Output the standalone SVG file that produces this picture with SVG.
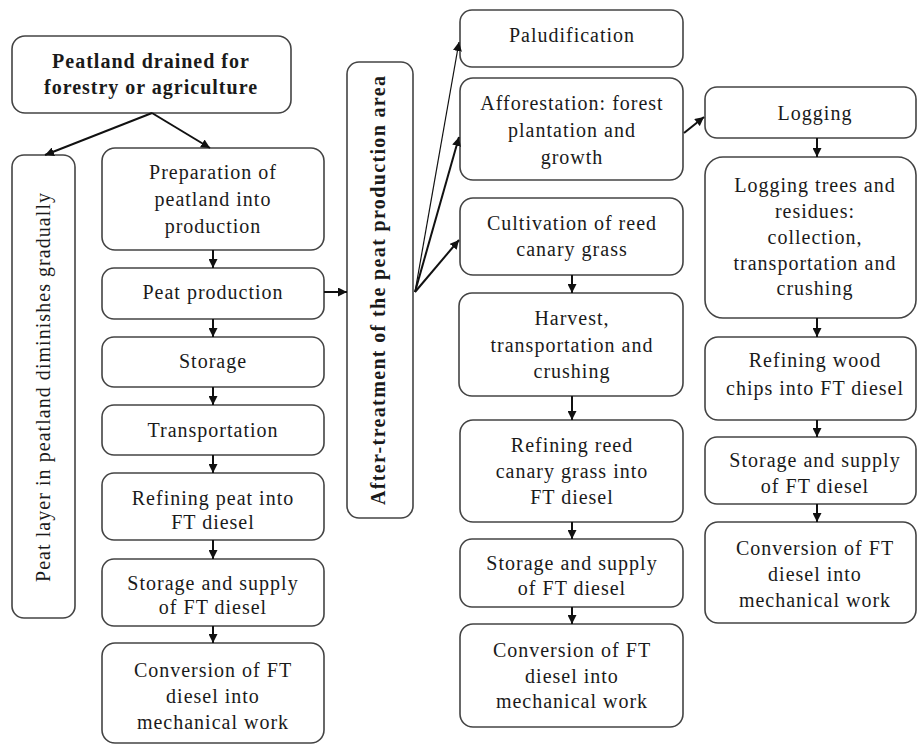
<svg xmlns="http://www.w3.org/2000/svg" width="917" height="745" viewBox="0 0 917 745">
<defs>
<marker id="ah" viewBox="0 0 10 10" refX="10" refY="5" markerWidth="9" markerHeight="9" markerUnits="userSpaceOnUse" orient="auto">
<path d="M0,0 L10,5 L0,10 z" fill="#111"/>
</marker>
<style>
rect{fill:#fff;stroke:#444;stroke-width:1.6}
text{font-family:"Liberation Serif","Times New Roman",serif;font-size:20px;fill:#1a1a1a;text-anchor:middle;letter-spacing:1px}
.b{font-weight:bold}
.c line{stroke:#111;stroke-width:2;marker-end:url(#ah)}
.c line.thin{stroke-width:1.2}
</style>
</defs>
<rect x="0" y="0" width="917" height="745" style="fill:#fff;stroke:none"/>

<g id="n-top"><rect x="12" y="36" width="279" height="77" rx="13"/>
<text class="b" x="151" y="68">Peatland drained for</text>
<text class="b" x="151" y="94">forestry or agriculture</text></g>

<g id="n-layer"><rect x="12" y="155" width="63" height="463" rx="12"/>
<text transform="translate(50,387) rotate(-90)" textLength="390" lengthAdjust="spacing">Peat layer in peatland diminishes gradually</text></g>

<g id="n-prep"><rect x="102" y="148" width="222" height="102" rx="13"/>
<text x="213" y="179">Preparation of</text><text x="213" y="206">peatland into</text><text x="213" y="233">production</text></g>
<g id="n-peatprod"><rect x="102" y="268" width="222" height="51" rx="12"/><text x="213" y="299">Peat production</text></g>
<g id="n-storage"><rect x="102" y="337" width="222" height="50" rx="12"/><text x="213" y="368">Storage</text></g>
<g id="n-transport"><rect x="102" y="405" width="222" height="50" rx="12"/><text x="213" y="437">Transportation</text></g>
<g id="n-refpeat"><rect x="102" y="473" width="222" height="67" rx="12"/><text x="213" y="505">Refining peat into</text><text x="213" y="529">FT diesel</text></g>
<g id="n-supply1"><rect x="102" y="559" width="222" height="67" rx="12"/><text x="213" y="590">Storage and supply</text><text x="213" y="614">of FT diesel</text></g>
<g id="n-conv1"><rect x="102" y="643" width="222" height="100" rx="13"/><text x="213" y="677">Conversion of FT</text><text x="213" y="703">diesel into</text><text x="213" y="729">mechanical work</text></g>

<g id="n-after"><rect x="347" y="62" width="66" height="456" rx="12"/>
<text class="b" transform="translate(385,290) rotate(-90)" textLength="430" lengthAdjust="spacing">After-treatment of the peat production area</text></g>

<g id="n-palud"><rect x="460" y="10" width="223" height="57" rx="12"/><text x="572" y="42">Paludification</text></g>
<g id="n-affor"><rect x="460" y="78" width="223" height="102" rx="13"/><text x="572" y="110">Afforestation: forest</text><text x="572" y="137">plantation and</text><text x="572" y="164">growth</text></g>
<g id="n-cult"><rect x="460" y="198" width="223" height="77" rx="13"/><text x="572" y="230">Cultivation of reed</text><text x="572" y="256">canary grass</text></g>
<g id="n-harvest"><rect x="459" y="293" width="224" height="103" rx="13"/><text x="572" y="325">Harvest,</text><text x="572" y="352">transportation and</text><text x="572" y="378">crushing</text></g>
<g id="n-refreed"><rect x="460" y="420" width="223" height="102" rx="13"/><text x="572" y="452">Refining reed</text><text x="572" y="478">canary grass into</text><text x="572" y="504">FT diesel</text></g>
<g id="n-supply2"><rect x="460" y="539" width="223" height="68" rx="12"/><text x="572" y="570">Storage and supply</text><text x="572" y="595">of FT diesel</text></g>
<g id="n-conv2"><rect x="460" y="624" width="223" height="103" rx="13"/><text x="572" y="657">Conversion of FT</text><text x="572" y="683">diesel into</text><text x="572" y="708">mechanical work</text></g>

<g id="n-logging"><rect x="705" y="87" width="211" height="51" rx="12"/><text x="815" y="120">Logging</text></g>
<g id="n-logtrees"><rect x="705" y="157" width="211" height="161" rx="18"/><text x="815" y="192">Logging trees and</text><text x="815" y="218">residues:</text><text x="815" y="244">collection,</text><text x="815" y="270">transportation and</text><text x="815" y="295">crushing</text></g>
<g id="n-refwood"><rect x="705" y="337" width="211" height="83" rx="13"/><text x="815" y="367">Refining wood</text><text x="815" y="395">chips into FT diesel</text></g>
<g id="n-supply3"><rect x="705" y="437" width="211" height="67" rx="12"/><text x="815" y="467">Storage and supply</text><text x="815" y="493">of FT diesel</text></g>
<g id="n-conv3"><rect x="705" y="522" width="211" height="101" rx="13"/><text x="815" y="555">Conversion of FT</text><text x="815" y="581">diesel into</text><text x="815" y="607">mechanical work</text></g>

<g id="connectors" class="c">
<line x1="152" y1="113" x2="45" y2="155"/>
<line x1="152" y1="113" x2="210" y2="148"/>
<line x1="213" y1="250" x2="213" y2="268"/>
<line x1="213" y1="319" x2="213" y2="337"/>
<line x1="213" y1="387" x2="213" y2="405"/>
<line x1="213" y1="455" x2="213" y2="473"/>
<line x1="213" y1="540" x2="213" y2="559"/>
<line x1="213" y1="626" x2="213" y2="643"/>
<line x1="324" y1="292" x2="347" y2="292"/>
<line class="thin" x1="415" y1="292" x2="459" y2="42"/>
<line x1="415" y1="292" x2="459" y2="137"/>
<line x1="415" y1="292" x2="459" y2="240"/>
<line x1="684" y1="133" x2="704" y2="117"/>
<line x1="572" y1="275" x2="572" y2="293"/>
<line x1="572" y1="396" x2="572" y2="420"/>
<line x1="572" y1="522" x2="572" y2="539"/>
<line x1="572" y1="607" x2="572" y2="624"/>
<line x1="817" y1="138" x2="817" y2="157"/>
<line x1="817" y1="318" x2="817" y2="337"/>
<line x1="817" y1="420" x2="817" y2="437"/>
<line x1="817" y1="504" x2="817" y2="522"/>
</g>
</svg>
